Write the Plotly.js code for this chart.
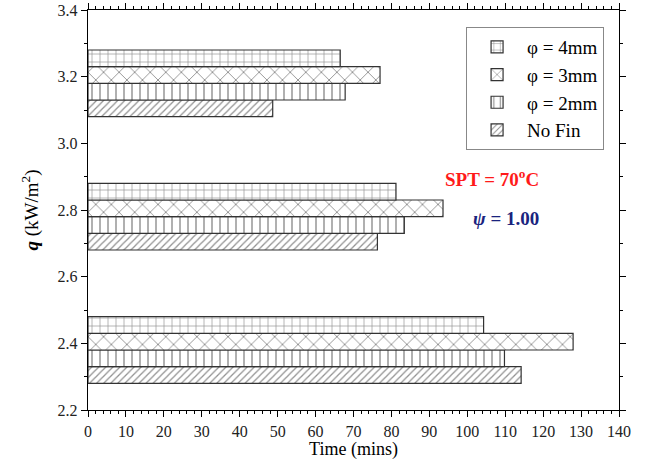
<!DOCTYPE html>
<html>
<head>
<meta charset="utf-8">
<script src="https://cdn.plot.ly/plotly-3.0.1.min.js"></script>
<style>body{margin:0;background:#fff}#chart{width:647px;height:465px}</style>
</head>
<body>
<div id="chart"></div>
<script>
// Data
const heatFlux = [2.4, 2.8, 3.2];            // q (kW/m^2)
const noFin   = [114.2, 76.3, 48.7];         // Time (mins)
const phi2mm  = [109.8, 83.4, 67.8];
const phi3mm  = [127.9, 93.6, 77.0];
const phi4mm  = [104.3, 81.2, 66.5];
const seriesNames = ['No Fin', 'φ = 2mm', 'φ = 3mm', 'φ = 4mm'];
const xTicks = [0,10,20,30,40,50,60,70,80,90,100,110,120,130,140];
const yTicks = [2.2,2.4,2.6,2.8,3.0,3.2,3.4];

const serif = 'Liberation Serif, Times New Roman, serif';
const lineCol = '#333';
const bw = 0.05;

function bar(name, vals, shape, size, solidity, offset) {
  return {
    type: 'bar', orientation: 'h', name: name,
    x: vals, y: heatFlux,
    width: bw, offset: offset,
    marker: {
      color: '#ffffff',
      line: {color: lineCol, width: 1.2},
      pattern: {shape: shape, size: size, solidity: solidity, fgcolor: '#222', bgcolor: '#ffffff', fillmode: 'overlay'}
    }
  };
}

const data = [
  bar(seriesNames[0], noFin, '/', 5, 0.25, -0.12),
  bar(seriesNames[1], phi2mm, '|', 8, 0.18, -0.07),
  bar(seriesNames[2], phi3mm, 'x', 11, 0.16, -0.02),
  bar(seriesNames[3], phi4mm, '+', 8, 0.16, 0.03)
];

const axCommon = {
  showline: true, linecolor: '#000', linewidth: 1.3, mirror: 'allticks',
  ticks: 'outside', ticklen: 6, tickwidth: 1, tickcolor: '#000',
  showgrid: false, zeroline: false,
  tickfont: {family: serif, size: 16, color: '#222'}
};

const layout = {
  width: 647, height: 465,
  margin: {l: 88, r: 28, t: 10, b: 55},
  paper_bgcolor: '#fff', plot_bgcolor: '#fff',
  barmode: 'overlay',
  showlegend: true,
  legend: {
    x: 0.712, y: 0.9575, xanchor: 'left', yanchor: 'top',
    traceorder: 'reversed',
    bordercolor: '#888', borderwidth: 1, bgcolor: '#fff',
    font: {family: serif, size: 19, color: '#000'},
    tracegroupgap: 0, itemwidth: 50
  },
  xaxis: Object.assign({}, axCommon, {
    range: [0, 140], tickvals: xTicks, ticktext: xTicks.map(String),
    minor: {dtick: 2, ticks: 'outside', ticklen: 3, tickcolor: '#000'},
    title: {text: 'Time (mins)', font: {family: serif, size: 18, color: '#000'}, standoff: 2}
  }),
  yaxis: Object.assign({}, axCommon, {
    range: [2.2, 3.4], tickvals: yTicks, ticktext: yTicks.map(v => v.toFixed(1)),
    minor: {dtick: 0.1, ticks: 'outside', ticklen: 3, tickcolor: '#000'},
    title: {text: '<b><i>q</i></b> (kW/m<sup>2</sup>)', font: {family: serif, size: 19, color: '#000'}, standoff: 14}
  }),
  annotations: [
    {xref: 'paper', yref: 'paper', x: 0.853, y: 0.58, showarrow: false,
     text: '<b>SPT = 70<sup>o</sup>C</b>', font: {family: serif, size: 19, color: '#ff1a1a'}},
    {xref: 'paper', yref: 'paper', x: 0.853, y: 0.48, showarrow: false,
     text: '<b><i>ψ</i> = 1.00</b>', font: {family: serif, size: 19, color: '#1a237e'}}
  ]
};

Plotly.newPlot('chart', data, layout, {displayModeBar: false, staticPlot: true});
</script>
</body>
</html>
